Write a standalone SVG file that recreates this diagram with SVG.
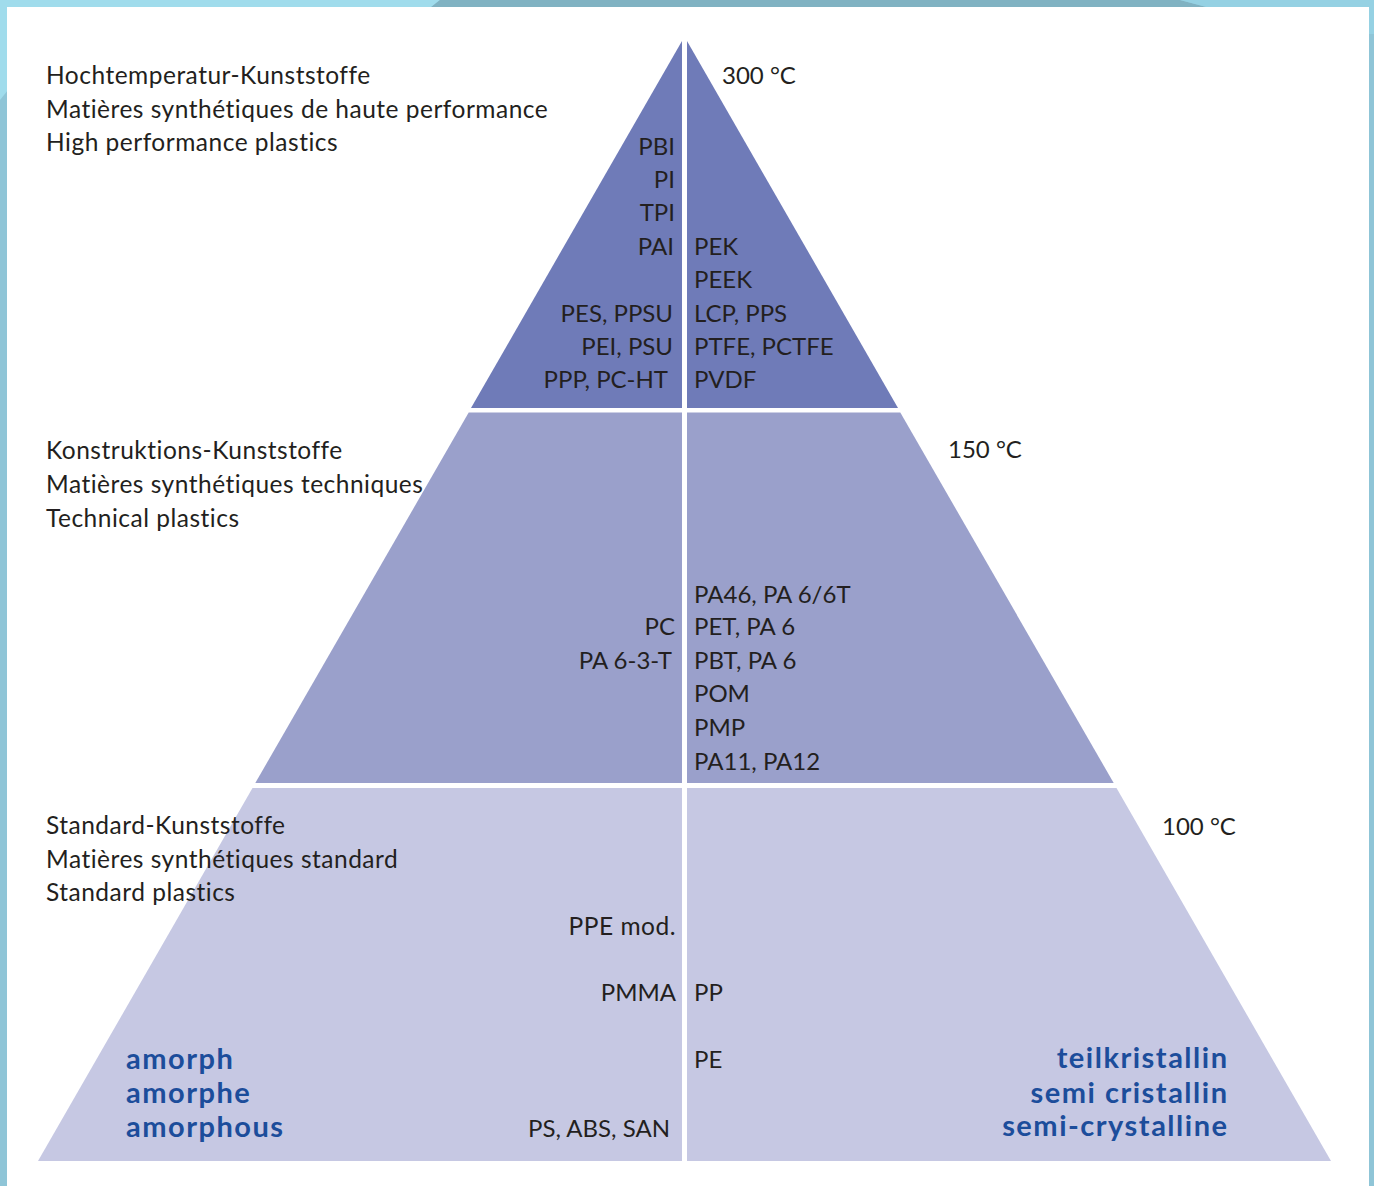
<svg xmlns="http://www.w3.org/2000/svg" width="1374" height="1186" viewBox="0 0 1374 1186">
<style>
.t{font-family:Lato,"Open Sans","Liberation Sans",sans-serif;font-size:24px;fill:#231f20}
.c{font-size:24.5px;letter-spacing:0.5px}
.e{text-anchor:end}
.b{font-family:Lato,"Open Sans","Liberation Sans",sans-serif;font-size:29px;font-weight:700;letter-spacing:1.5px;fill:#1c4d9b}
.t1{fill:#6f7bb8}
.t2{fill:#9aa0cb}
.t3{fill:#c6c8e3}
</style>
<g id="frame">
<rect x="0" y="0" width="1374" height="1186" fill="#8fc5d7"/>
<polygon points="0,0 440,0 430,8 0,8" fill="#a0dcec"/>
<polygon points="440,0 1180,0 1210,8 430,8" fill="#80b2c2"/>
<polygon points="1180,0 1374,0 1374,8 1210,8" fill="#95d1e3"/>
<polygon points="0,0 8,0 8,90 0,100" fill="#a0dcec"/>
<polygon points="1366,0 1374,0 1374,34 1366,34" fill="#95d1e3"/>
<rect x="7" y="7" width="1362" height="1179" fill="#ffffff"/>
</g>
<g id="tier-high">
<polygon class="t1" points="682,41 682,408 471,408"/>
<polygon class="t1" points="687,41 898,408 687,408"/>
</g>
<g id="tier-technical">
<polygon class="t2" points="468.7,412.5 682,412.5 682,783 255.3,783"/>
<polygon class="t2" points="687,412.5 900.3,412.5 1113.7,783 687,783"/>
</g>
<g id="tier-standard">
<polygon class="t3" points="252.5,788 682,788 682,1161 38,1161"/>
<polygon class="t3" points="687,788 1116.5,788 1331,1161 687,1161"/>
</g>
<g id="labels-high">
<text class="t c" x="46" y="84">Hochtemperatur-Kunststoffe</text>
<text class="t c" x="46" y="118">Matières synthétiques de haute performance</text>
<text class="t c" x="46" y="151">High performance plastics</text>
<text class="t" x="722" y="84">300 °C</text>
<text class="t e" x="675" y="155">PBI</text>
<text class="t e" x="675" y="188">PI</text>
<text class="t e" x="675" y="221">TPI</text>
<text class="t e" x="674" y="255">PAI</text>
<text class="t e" x="673" y="322">PES, PPSU</text>
<text class="t e" x="673" y="355">PEI, PSU</text>
<text class="t e" x="668" y="388">PPP, PC-HT</text>
<text class="t" x="694" y="255">PEK</text>
<text class="t" x="694" y="288">PEEK</text>
<text class="t" x="694" y="322">LCP, PPS</text>
<text class="t" x="694" y="355">PTFE, PCTFE</text>
<text class="t" x="694" y="388">PVDF</text>
</g>
<g id="labels-technical">
<text class="t c" x="46" y="459">Konstruktions-Kunststoffe</text>
<text class="t c" x="46" y="493">Matières synthétiques techniques</text>
<text class="t c" x="46" y="527">Technical plastics</text>
<text class="t" x="948" y="458">150 °C</text>
<text class="t e" x="675" y="635">PC</text>
<text class="t e" x="672" y="669">PA 6-3-T</text>
<text class="t" x="694" y="603">PA46, PA 6/6T</text>
<text class="t" x="694" y="635">PET, PA 6</text>
<text class="t" x="694" y="669">PBT, PA 6</text>
<text class="t" x="694" y="702">POM</text>
<text class="t" x="694" y="736">PMP</text>
<text class="t" x="694" y="770">PA11, PA12</text>
</g>
<g id="labels-standard">
<text class="t c" x="46" y="834">Standard-Kunststoffe</text>
<text class="t c" x="46" y="868">Matières synthétiques standard</text>
<text class="t c" x="46" y="901">Standard plastics</text>
<text class="t" x="1162" y="835">100 °C</text>
<text class="t c e" x="676" y="935">PPE mod.</text>
<text class="t e" x="676" y="1001">PMMA</text>
<text class="t" x="694" y="1001">PP</text>
<text class="t" x="694" y="1068">PE</text>
<text class="t e" x="670" y="1137">PS, ABS, SAN</text>
<text class="b" x="126" y="1069">amorph</text>
<text class="b" x="126" y="1103">amorphe</text>
<text class="b" x="126" y="1137">amorphous</text>
<text class="b e" x="1228.5" y="1068">teilkristallin</text>
<text class="b e" x="1228.5" y="1103">semi cristallin</text>
<text class="b e" x="1228.5" y="1136">semi-crystalline</text>
</g>
</svg>
